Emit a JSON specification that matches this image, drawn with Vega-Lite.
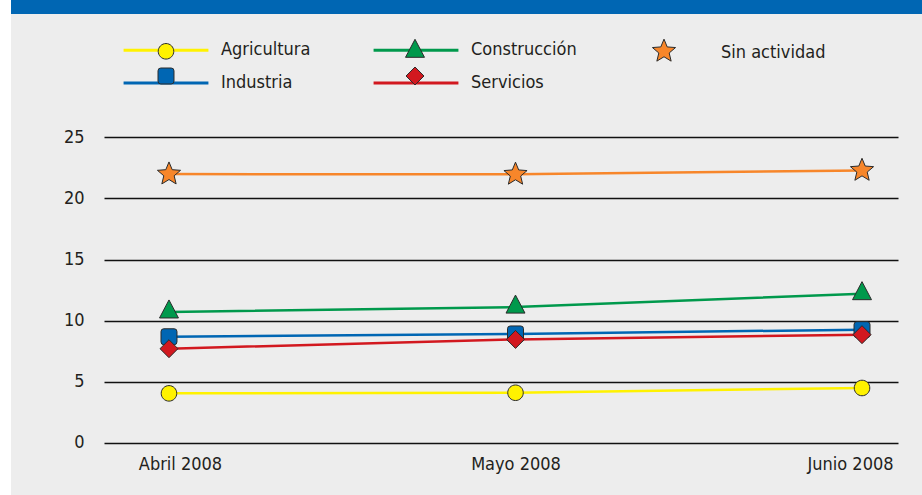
{
  "$schema": "https://vega.github.io/schema/vega-lite/v6.json",
  "background": "#ffffff",
  "padding": {"left": 11, "top": 0, "right": 0, "bottom": 0},
  "spacing": 0,
  "config": {
    "view": {"stroke": null},
    "font": "DejaVu Sans Condensed, DejaVu Sans, sans-serif"
  },
  "resolve": {
    "scale": {"color": "independent", "shape": "independent", "fill": "independent", "stroke": "independent"},
    "legend": {"color": "independent", "shape": "independent", "fill": "independent", "stroke": "independent"}
  },
  "vconcat": [
    {
      "width": 911,
      "height": 14,
      "data": {"values": [{"banda": 1}]},
      "mark": {"type": "rect", "color": "#0066b3"},
      "encoding": {}
    },
    {
      "width": 911,
      "height": 481,
      "view": {"fill": "#ededed", "stroke": null},
      "data": {
        "values": [
          {"serie": "Agricultura", "mes": "Abril 2008", "valor": 4.03},
          {"serie": "Agricultura", "mes": "Mayo 2008", "valor": 4.08},
          {"serie": "Agricultura", "mes": "Junio 2008", "valor": 4.47},
          {"serie": "Industria", "mes": "Abril 2008", "valor": 8.67},
          {"serie": "Industria", "mes": "Mayo 2008", "valor": 8.9},
          {"serie": "Industria", "mes": "Junio 2008", "valor": 9.25},
          {"serie": "Servicios", "mes": "Abril 2008", "valor": 7.69},
          {"serie": "Servicios", "mes": "Mayo 2008", "valor": 8.45},
          {"serie": "Servicios", "mes": "Junio 2008", "valor": 8.84},
          {"serie": "Construcción", "mes": "Abril 2008", "valor": 10.7},
          {"serie": "Construcción", "mes": "Mayo 2008", "valor": 11.1},
          {"serie": "Construcción", "mes": "Junio 2008", "valor": 12.2},
          {"serie": "Sin actividad", "mes": "Abril 2008", "valor": 22.0},
          {"serie": "Sin actividad", "mes": "Mayo 2008", "valor": 21.98},
          {"serie": "Sin actividad", "mes": "Junio 2008", "valor": 22.3}
        ]
      },
      "encoding": {
        "x": {
          "field": "mes",
          "type": "ordinal",
          "scale": {
            "type": "point",
            "domain": ["Abril 2008", "Mayo 2008", "Junio 2008"],
            "range": [93, 887],
            "padding": 0.1457,
            "align": 0.6436
          },
          "axis": {
            "title": null,
            "domain": false,
            "ticks": false,
            "tickSize": 0,
            "grid": false,
            "offset": -52,
            "labelAngle": 0,
            "labelPadding": 12,
            "labelFontSize": 18,
            "labelColor": "#231f20",
            "labelOffset": {"expr": "datum.value === 'Abril 2008' ? 11 : (datum.value === 'Junio 2008' ? -12 : 0)"}
          }
        },
        "y": {
          "field": "valor",
          "type": "quantitative",
          "scale": {"domain": [-4.3, 35.12], "nice": false, "zero": false},
          "axis": {
            "title": null,
            "values": [0, 5, 10, 15, 20, 25],
            "domain": false,
            "ticks": false,
            "tickSize": 0,
            "offset": -93,
            "labelPadding": 20,
            "labelFontSize": 18,
            "labelColor": "#231f20",
            "gridColor": "#111111",
            "gridWidth": 1.5,
            "gridOpacity": 1
          }
        }
      },
      "layer": [
        {
          "mark": {"type": "line", "strokeWidth": 2.5},
          "encoding": {
            "color": {
              "field": "serie",
              "type": "nominal",
              "sort": ["Agricultura", "Construcción", "Sin actividad", "Industria", "Servicios"],
              "scale": {
                "range": ["#fff200", "#00994c", "#f7862a", "#0066b3", "#d2181f"]
              },
              "legend": {
                "title": null,
                "orient": "none",
                "legendX": 146,
                "legendY": 27,
                "direction": "horizontal",
                "columns": 3,
                "gridAlign": "all",
                "columnPadding": 40,
                "rowPadding": -5,
                "padding": 0,
                "symbolType": "M-6,-1.75 M6,1.75 M-6,0 L6,0",
                "symbolSize": 200,
                "symbolStrokeWidth": 3,
                "labelFontSize": 18,
                "labelColor": "#231f20",
                "labelOffset": 46,
                "encode": {"symbols": {"update": {"strokeOpacity": {"signal": "datum.value === 'Sin actividad' ? 0 : 1"}}}}
              }
            }
          }
        },
        {
          "mark": {"type": "point", "filled": true, "size": 200, "strokeWidth": 1, "opacity": 1},
          "encoding": {
            "fill": {
              "field": "serie",
              "type": "nominal",
              "scale": {
                "domain": ["Agricultura", "Construcción", "Sin actividad", "Industria", "Servicios"],
                "range": ["#fff200", "#00994c", "#f7862a", "#0066b3", "#d2181f"]
              },
              "legend": {
                "title": null,
                "orient": "none",
                "legendX": 146,
                "legendY": 28,
                "direction": "horizontal",
                "columns": 3,
                "gridAlign": "all",
                "columnPadding": 43,
                "rowPadding": -5,
                "padding": 0,
                "symbolSize": 200,
                "symbolStrokeWidth": 1,
                "labelFontSize": 18,
                "labelOffset": 46,
                "labelOpacity": 0
              }
            },
            "stroke": {
              "field": "serie",
              "type": "nominal",
              "scale": {
                "domain": ["Agricultura", "Construcción", "Sin actividad", "Industria", "Servicios"],
                "range": ["#2b2b2b", "#2b2b2b", "#2b2b2b", "#2b2b2b", "#2b2b2b"]
              },
              "legend": {
                "title": null,
                "orient": "none",
                "legendX": 146,
                "legendY": 28,
                "direction": "horizontal",
                "columns": 3,
                "gridAlign": "all",
                "columnPadding": 43,
                "rowPadding": -5,
                "padding": 0,
                "symbolSize": 200,
                "symbolStrokeWidth": 1,
                "labelFontSize": 18,
                "labelOffset": 46,
                "labelOpacity": 0
              }
            },
            "shape": {
              "field": "serie",
              "type": "nominal",
              "scale": {
                "domain": ["Agricultura", "Construcción", "Sin actividad", "Industria", "Servicios"],
                "range": [
                  "M-6,-1.75 M6,1.75 M1.1,0 A1.1,1.1 0 1,1 -1.1,0 A1.1,1.1 0 1,1 1.1,0 Z",
                  "M-6,-1.75 M6,1.75 M0,-1.7 L1.34,0.85 L-1.34,0.85 Z",
                  "M-6,-1.75 M6,1.75 M0,-1.72 L0.453,-0.623 L1.636,-0.532 L0.732,0.238 L1.011,1.392 L0,0.77 L-1.011,1.392 L-0.732,0.238 L-1.636,-0.532 L-0.453,-0.623 Z",
                  "M-6,-1.75 M6,1.75 M-0.73,-1.13 L0.73,-1.13 Q1.13,-1.13 1.13,-0.73 L1.13,0.73 Q1.13,1.13 0.73,1.13 L-0.73,1.13 Q-1.13,1.13 -1.13,0.73 L-1.13,-0.73 Q-1.13,-1.13 -0.73,-1.13 Z",
                  "M-6,-1.75 M6,1.75 M0,-1.27 L1.27,0 L0,1.27 L-1.27,0 Z"
                ]
              },
              "legend": {
                "title": null,
                "orient": "none",
                "legendX": 146,
                "legendY": 28,
                "direction": "horizontal",
                "columns": 3,
                "gridAlign": "all",
                "columnPadding": 43,
                "rowPadding": -5,
                "padding": 0,
                "symbolSize": 200,
                "symbolStrokeWidth": 1,
                "labelFontSize": 18,
                "labelOffset": 46,
                "labelOpacity": 0
              }
            }
          }
        }
      ]
    }
  ]
}
